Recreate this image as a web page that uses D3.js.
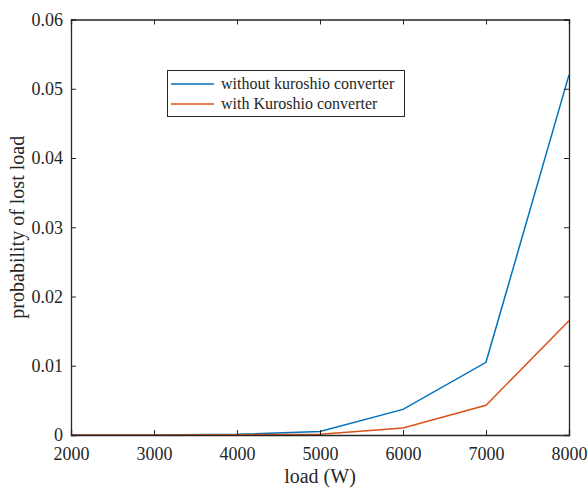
<!DOCTYPE html>
<html>
<head>
<meta charset="utf-8">
<script src="https://cdn.jsdelivr.net/npm/d3@7"></script>
<style>
  body { margin: 0; background: #fff; }
  svg text { font-family: "Liberation Serif", "Times New Roman", serif; fill: #262626; }
</style>
</head>
<body>
<div id="chart"></div>
<script>
// loads (W)
const loads = [2000, 3000, 4000, 5000, 6000, 7000, 8000];
// probability of lost load
const withoutKuroshio = [0, 0, 0.0001, 0.0005, 0.0037, 0.0105, 0.052];
const withKuroshio = [0, 0, 0.00005, 0.0001, 0.001, 0.0043, 0.0165];
const seriesNames = ["without kuroshio converter", "with Kuroshio converter"];
const seriesColors = ["#0072BD", "#D95319"];
const xTicks = [2000, 3000, 4000, 5000, 6000, 7000, 8000];
const yTicks = [0, 0.01, 0.02, 0.03, 0.04, 0.05, 0.06];

const width = 588, height = 488;
const margin = {left: 71, top: 19.5, right: 19, bottom: 53};

let svg = d3.select("#chart")
  .append("svg")
    .attr("width", width)
    .attr("height", height);

let x = d3.scaleLinear()
  .domain([2000, 8000])
  .range([margin.left, width - margin.right]);

let y = d3.scaleLinear()
  .domain([0, 0.06])
  .range([height - margin.bottom, margin.top]);

let axisColor = "#262626";

// lines
let line = d3.line()
  .x((d, i) => x(loads[i]))
  .y(d => y(d));

[withoutKuroshio, withKuroshio].forEach((s, i) => {
  svg.append("path")
    .datum(s)
    .attr("d", line)
    .attr("fill", "none")
    .attr("stroke", seriesColors[i])
    .attr("stroke-width", 1.5);
});

// axes (ticks pointing inward, box round the plot)
let gBottom = svg.append("g")
  .attr("transform", "translate(0," + y(0) + ")")
  .call(d3.axisBottom(x).tickValues(xTicks).tickSize(-5).tickPadding(12).tickFormat(d3.format("d")));
let gTop = svg.append("g")
  .attr("transform", "translate(0," + y(0.06) + ")")
  .call(d3.axisTop(x).tickValues(xTicks).tickSize(-5).tickFormat(""));
let gLeft = svg.append("g")
  .attr("transform", "translate(" + x(2000) + ",0)")
  .call(d3.axisLeft(y).tickValues(yTicks).tickSize(-5).tickPadding(8).tickFormat(d => d === 0 ? "0" : d3.format(".2f")(d)));
let gRight = svg.append("g")
  .attr("transform", "translate(" + x(8000) + ",0)")
  .call(d3.axisRight(y).tickValues(yTicks).tickSize(-5).tickFormat(""));

[gBottom, gTop, gLeft, gRight].forEach(g => {
  g.attr("font-family", "Liberation Serif").attr("font-size", 18);
  g.select(".domain").attr("stroke", axisColor).attr("stroke-width", 1.3);
  g.selectAll(".tick line").attr("stroke", axisColor).attr("stroke-width", 1);
  g.selectAll(".tick text").attr("fill", axisColor);
});

// axis titles
svg.append("text")
  .attr("x", (x(2000) + x(8000)) / 2)
  .attr("y", 483)
  .attr("text-anchor", "middle")
  .style("font-size", "20px")
  .text("load (W)");

svg.append("text")
  .attr("transform", "translate(24," + (y(0.03)) + ") rotate(-90)")
  .attr("text-anchor", "middle")
  .style("font-size", "20px")
  .text("probability of lost load");

// legend
let legend = svg.append("g");
legend.append("rect")
  .attr("x", 167.5).attr("y", 70.5)
  .attr("width", 237).attr("height", 46)
  .attr("fill", "#fff")
  .attr("stroke", "#262626")
  .attr("stroke-width", 1);

seriesNames.forEach((name, i) => {
  let ly = 84 + i * 20;
  legend.append("line")
    .attr("x1", 171).attr("x2", 214)
    .attr("y1", ly).attr("y2", ly)
    .attr("stroke", seriesColors[i])
    .attr("stroke-width", 1.5);
  legend.append("text")
    .attr("x", 221).attr("y", ly + 5)
    .style("font-size", "16px")
    .text(name);
});
</script>
</body>
</html>
